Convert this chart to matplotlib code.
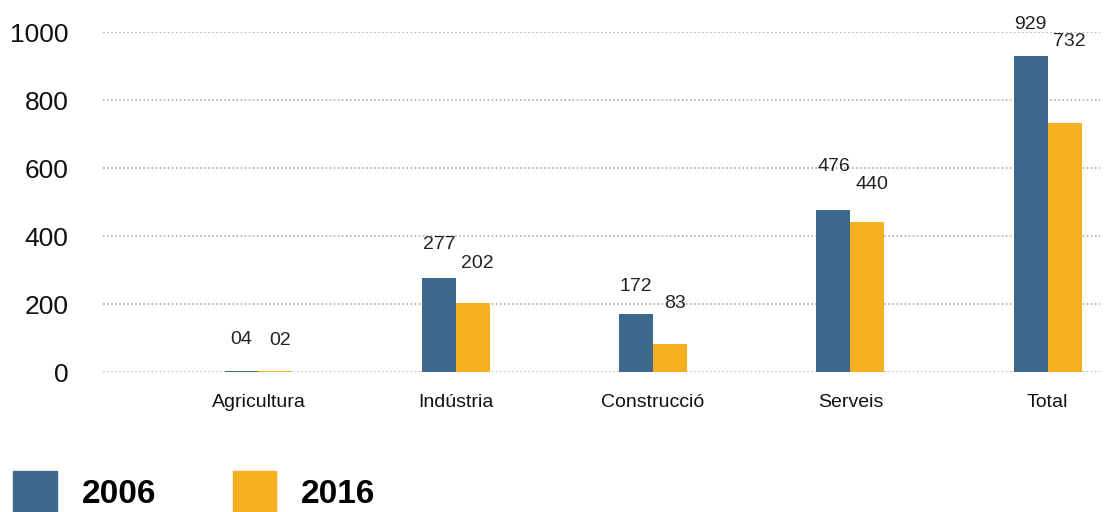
import matplotlib
matplotlib.use('Agg')
from matplotlib import pyplot as plt
from matplotlib.patches import Patch
import numpy as np

# chart data
categories = ['Agricultura', 'Indústria', 'Construcció', 'Serveis', 'Total']
values_2006 = [4, 277, 172, 476, 929]
values_2016 = [2, 202, 83, 440, 732]
series_names = ['2006', '2016']
y_ticks = [0, 200, 400, 600, 800, 1000]

color_2006 = '#3e688c'
color_2016 = '#f7af22'

# label lift above each bar (pixels), the source places them by hand
lift_2006 = [31, 33, 27, 44, 32]
lift_2016 = [31, 40, 40, 38, 82]

plt.rcParams['font.family'] = ['Liberation Sans', 'DejaVu Sans']

fig = plt.figure(figsize=(11.04, 5.12), dpi=100)
ax = fig.add_axes([103/1104, 1 - 372/512, 997/1104, 340/512])

x = np.arange(len(categories))
w = 0.172
bars1 = ax.bar(x - w/2, values_2006, w, color=color_2006, zorder=3)
bars2 = ax.bar(x + w/2, values_2016, w, color=color_2016, zorder=3)

# value labels
for i in range(len(categories)):
    ax.annotate('%02d' % values_2006[i], (x[i] - w/2, values_2006[i]),
                xytext=(0, lift_2006[i]), textcoords='offset pixels',
                ha='center', va='center', fontsize=14, color='#222222',
                annotation_clip=False)
    ax.annotate('%02d' % values_2016[i], (x[i] + w/2, values_2016[i]),
                xytext=(5, lift_2016[i]), textcoords='offset pixels',
                ha='center', va='center', fontsize=14, color='#222222',
                annotation_clip=False)

ax.set_xlim(-0.788, 4.265)
ax.set_ylim(0, 1000)
ax.set_yticks(y_ticks)
ax.set_yticklabels([str(t) for t in y_ticks], fontsize=19, color='#111111')
ax.set_xticks(x)
ax.set_xticklabels(categories, fontsize=14, color='#111111')
ax.tick_params(axis='y', length=0, pad=25)
ax.tick_params(axis='x', length=0, pad=16)

ax.grid(axis='y', linestyle=':', linewidth=1.1, color='#a0a0a0', zorder=0)
for s in ax.spines.values():
    s.set_visible(False)

# legend at the bottom
handles = [Patch(color=color_2006), Patch(color=color_2016)]
fig.legend(handles, series_names, loc='lower left', bbox_to_anchor=(-0.003, -0.036),
           ncol=2, frameon=False, prop={'weight': 'bold', 'size': 24},
           handlelength=1.3, handleheight=1.6, handletextpad=0.75,
           columnspacing=2.3, borderpad=0.0)

plt.savefig('out.png', dpi=100)
